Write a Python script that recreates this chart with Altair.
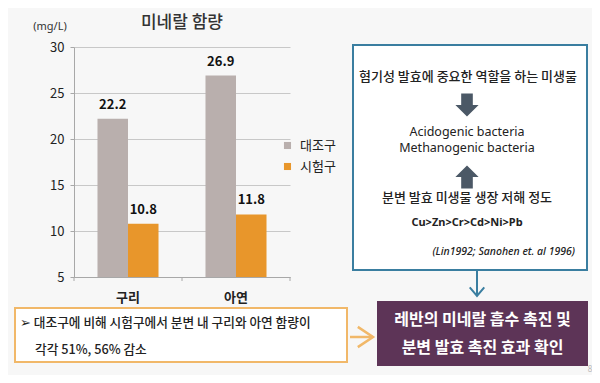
import altair as alt
import pandas as pd

# ---- data ----
categories = ["구리", "아연"]
series = ["대조구", "시험구"]
control = [22.2, 26.9]
treatment = [10.8, 11.8]
y_ticks = [5, 10, 15, 20, 25, 30]

chart_title = "미네랄 함량"
unit_label = "(mg/L)"
box_lines = ["혐기성 발효에 중요한 역할을 하는 미생물",
             "Acidogenic bacteria", "Methanogenic bacteria",
             "분변 발효 미생물 생장 저해 정도", "Cu>Zn>Cr>Cd>Ni>Pb",
             "(Lin1992; Sanohen et. al 1996)"]
note_lines = ["➢ 대조구에 비해 시험구에서 분변 내 구리와 아연 함량이", "각각 51%, 56% 감소"]
result_lines = ["레반의 미네랄 흡수 촉진 및", "분변 발효 촉진 효과 확인"]
page_no = "8"

rows = []
for i, c in enumerate(categories):
    rows.append({"category": c, "series": series[0], "value": control[i]})
    rows.append({"category": c, "series": series[1], "value": treatment[i]})
df = pd.DataFrame(rows)

KR = "Noto Sans CJK KR"
LAT = "Noto Sans"
GRAY = "#B9AFAD"
ORANGE = "#E8962B"
TEAL = "#3A7EA0"
LORANGE = "#F1B869"
PURPLE = "#5D3457"

one = pd.DataFrame({"k": [0]})

base = alt.Chart(df).encode(
    x=alt.X("category:N", sort=categories,
            scale=alt.Scale(paddingInner=0.435, paddingOuter=0.2175),
            axis=alt.Axis(title=None, labelAngle=0, ticks=False, labelFontSize=13,
                          labelFontWeight="bold", labelColor="#222", labelFont=KR,
                          labelPadding=14, domainColor="#a8a8a8")),
    xOffset=alt.XOffset("series:N", sort=series, scale=alt.Scale(paddingInner=0)),
)

bars = base.mark_bar().encode(
    y=alt.Y("value:Q", scale=alt.Scale(domain=[5, 30], nice=False, zero=False),
            axis=alt.Axis(title=None, values=y_ticks, grid=True, gridColor="#c8c8c8",
                          domainColor="#a8a8a8", tickColor="#a8a8a8", tickSize=4,
                          labelFontSize=13, labelColor="#222", labelFont=KR,
                          labelPadding=6)),
    y2=alt.datum(5),
    color=alt.Color("series:N", sort=series,
                    scale=alt.Scale(domain=series, range=[GRAY, ORANGE]),
                    legend=alt.Legend(orient="none", legendX=207, legendY=92, title=None,
                                      symbolType="square", symbolSize=50, symbolStrokeWidth=0,
                                      labelFontSize=13, labelFont=KR, labelColor="#222",
                                      labelOffset=6, rowPadding=7, padding=0)),
)

labels = base.mark_text(baseline="middle", dy=-14, fontSize=13, fontWeight="bold",
                        font=KR, color="#111").encode(
    y=alt.Y("value:Q"), text=alt.Text("value:Q", format=".1f"))

def txt(s, x, y, size=12, weight="normal", color="#222", align="center", font=KR, style="normal"):
    return alt.Chart(one).mark_text(text=s, fontSize=size, fontWeight=weight, color=color,
                                    align=align, baseline="middle", font=font,
                                    fontStyle=style).encode(x=alt.value(x), y=alt.value(y))

def box(x, x2, y, y2, fill, stroke=None, sw=0):
    kw = dict(fill=fill)
    if stroke:
        kw.update(stroke=stroke, strokeWidth=sw)
    return alt.Chart(one).mark_rect(**kw).encode(
        x=alt.value(x), x2=alt.value(x2), y=alt.value(y), y2=alt.value(y2))

def vrule(x, y, y2, color, w):
    return alt.Chart(one).mark_rule(color=color, strokeWidth=w).encode(
        x=alt.value(x), y=alt.value(y), y2=alt.value(y2))

def hrule(x, x2, y, color, w):
    return alt.Chart(one).mark_rule(color=color, strokeWidth=w).encode(
        x=alt.value(x), x2=alt.value(x2), y=alt.value(y))

def shape(path, x, y, size, color, filled=True, sw=2):
    if filled:
        m = alt.Chart(one).mark_point(shape=path, filled=True, fill=color, stroke=None,
                                      size=size, opacity=1)
    else:
        m = alt.Chart(one).mark_point(shape=path, filled=False, stroke=color,
                                      strokeWidth=sw, size=size, opacity=1)
    return m.encode(x=alt.value(x), y=alt.value(y))

DOWN = "M-0.5,-1 L0.5,-1 L0.5,0 L1,0 L0,1 L-1,0 L-0.5,0 Z"
UP = "M-0.5,1 L0.5,1 L0.5,0 L1,0 L0,-1 L-1,0 L-0.5,0 Z"

layers = [
    # x ticks
    vrule(0, 230, 234, "#a8a8a8", 1), vrule(108, 230, 234, "#a8a8a8", 1), vrule(216, 230, 234, "#a8a8a8", 1),
    bars, labels,
    txt(chart_title, 108, -24, size=17, weight=500, color="#333"),
    txt(unit_label, -24, -20, size=11, color="#333", font=LAT),
    # teal box
    box(279, 513, -2, 223, "#ffffff", TEAL, 2),
    txt(box_lines[0], 394, 30, size=13, weight=500),
    shape(DOWN, 393, 58, 540, "#4B5866"),
    txt(box_lines[1], 393, 85, size=12.5, font=LAT),
    txt(box_lines[2], 393, 101, size=12.5, font=LAT),
    shape(UP, 393, 130, 540, "#4B5866"),
    txt(box_lines[3], 393, 151, size=13, weight=500),
    txt(box_lines[4], 393, 176, size=11, weight="bold", font=LAT),
    txt(box_lines[5], 501, 205, size=10.5, align="right", font=LAT, style="italic", weight=500),
    # teal arrow
    vrule(403, 223, 248, TEAL, 2),
    shape("M-1,-1.2 L0,0 L1,-1.2", 403, 249, 210, TEAL, filled=False, sw=2),
    # orange note box
    box(-59, 273, 261, 315, "#ffffff", LORANGE, 2),
    txt(note_lines[0], -54, 276, size=12.7, align="left", weight=500),
    txt(note_lines[1], -39, 303, size=12.7, align="left", weight=500),
    # orange arrow
    hrule(276, 299, 290, LORANGE, 2.5),
    shape("M-1.5,-1 L0,0 L-1.5,1", 299, 290, 410, LORANGE, filled=False, sw=2.5),
    # purple result box
    box(303, 514, 254, 319, PURPLE),
    txt(result_lines[0], 408.5, 273, size=16, weight="bold", color="#ffffff"),
    txt(result_lines[1], 408.5, 301, size=16, weight="bold", color="#ffffff"),
    txt(page_no, 516, 323, size=8, color="#bbbbbb", font=LAT),
]

chart = alt.layer(*layers).properties(
    width=216, height=230,
    autosize=alt.AutoSizeParams(type="none"),
    padding={"left": 66, "top": 39, "right": 302, "bottom": 98},
    background="#f7f7f7",
).configure_view(stroke=None)

chart.save("out.html", embed_options={"renderer": "svg", "actions": False})
